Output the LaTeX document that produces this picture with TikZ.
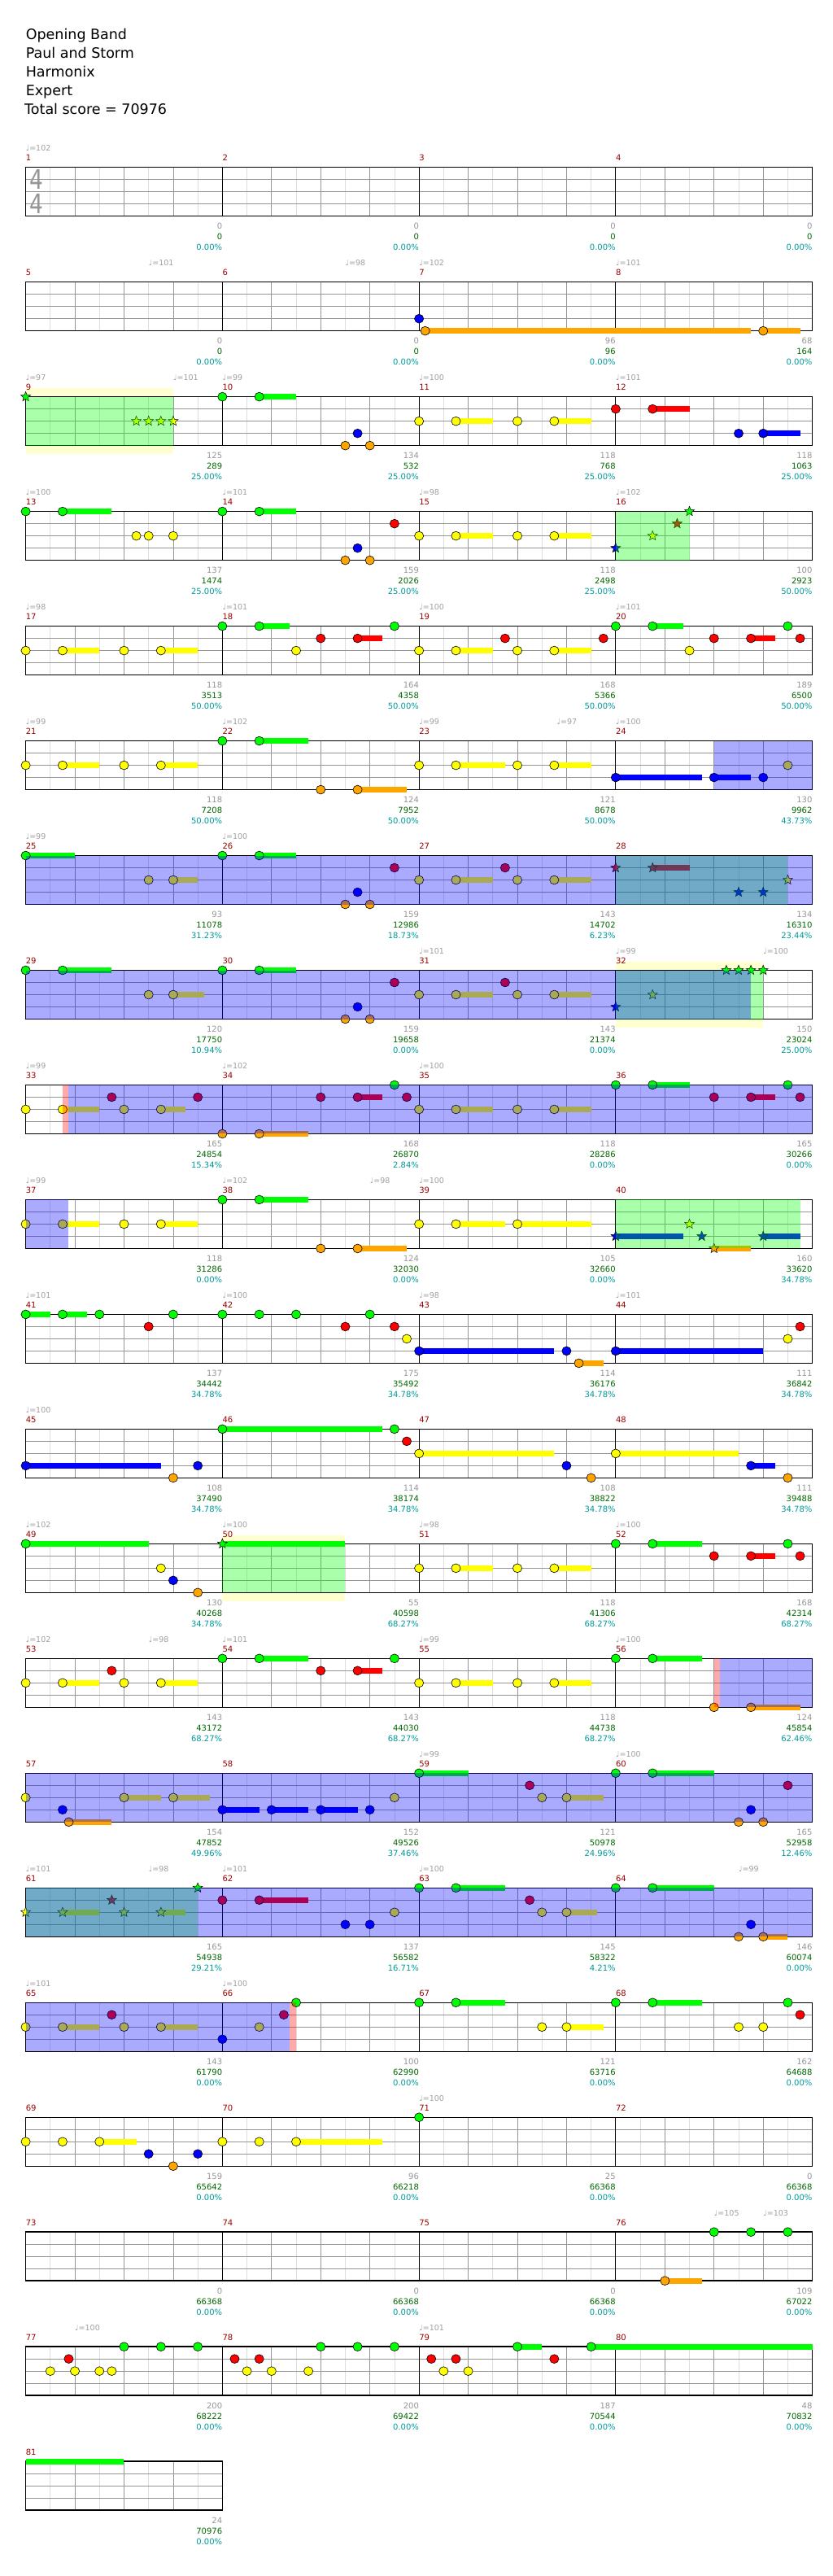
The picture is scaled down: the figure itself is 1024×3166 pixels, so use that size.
\documentclass[tikz,border=0pt]{standalone}
\usepackage{fontspec}
\setmainfont{DejaVu Sans}
\usepackage{tikz}
\usetikzlibrary{shapes.geometric}

\definecolor{lane0}{RGB}{0,255,0}
\definecolor{lane1}{RGB}{255,0,0}
\definecolor{lane2}{RGB}{255,255,0}
\definecolor{lane3}{RGB}{0,0,255}
\definecolor{lane4}{RGB}{255,165,0}
\definecolor{barred}{RGB}{153,0,0}
\definecolor{ptgray}{RGB}{150,150,150}
\definecolor{ptgreen}{RGB}{0,102,0}
\definecolor{pcteal}{RGB}{0,153,153}
\definecolor{tempogray}{RGB}{160,160,160}
\definecolor{gridgray}{RGB}{150,150,150}
\definecolor{gridlight}{RGB}{222,222,222}
\definecolor{bandyellow}{RGB}{255,255,208}

\newcommand\smallnums{\fontsize{10}{12}\selectfont}
\newcommand\tempofont{\fontsize{9.5}{11}\selectfont}
\newcommand\titlefont{\fontsize{17.5}{20}\selectfont}

\tikzset{
 chartrow/.style={shift={(31.6,{205.7+(#1-1)*140.97})}, x=30.22pt, y=-15pt},
 halfline/.style={draw=gridlight, line width=0.8pt},
 beatline/.style={draw=gridgray, line width=0.8pt},
 laneline/.style={draw=gridgray, line width=0.9pt},
 barline/.style={draw=black, line width=0.8pt},
 staffframe/.style={draw=black, line width=1.4pt},
 gemline/.style={draw=black, line width=0.6pt},
 susbar/.style={line width=7pt},
 stargem/.style={
 star,
 star points=5,
 star point ratio=2.3,
 minimum size=12.5pt,
 inner sep=0pt,
 draw=black,
 line width=0.5pt
 },
 barnum/.style={anchor=base west, inner sep=0pt, yshift=8pt, text=barred, font=\smallnums},
 tempomark/.style={anchor=base west, inner sep=0pt, yshift=20pt, text=tempogray, font=\tempofont},
 ptgain/.style={anchor=base east, inner sep=0pt, yshift=-16pt, text=ptgray, font=\smallnums},
 ptsum/.style={anchor=base east, inner sep=0pt, yshift=-29pt, text=ptgreen, font=\smallnums},
 ptpct/.style={anchor=base east, inner sep=0pt, yshift=-42pt, text=pcteal, font=\smallnums},
 timesig/.style={inner sep=0pt, text=gridgray, font=\fontsize{33}{33}\selectfont, xscale=0.8},
 titleline/.style={anchor=base west, inner sep=0pt, font=\titlefont}
}

\newcommand\staffgrid[2]{%
 \pgfmathtruncatemacro\gridend{8*#1}%
 \pgfmathtruncatemacro\gridlast{8*#1-1}%
 \fill[white] (0,0) rectangle (\gridend,4);
 \foreach \e in {1,...,\gridlast} {\draw[halfline] (\e,0) -- (\e,4);}
 \foreach \e in {2,4,...,\gridlast} {\draw[beatline] (\e,0) -- (\e,4);}
 \foreach \l in {1,2,3} {\draw[laneline] (0,\l) -- (\gridend,\l);}
 \foreach \k in {1,...,#1} {
 \pgfmathtruncatemacro\mnum{#2+\k-1}
 \draw[barline] ({8*(\k-1)},0) -- ({8*(\k-1)},4);
 \node[barnum] at ({8*(\k-1)},0) {\mnum};
 }
 \draw[staffframe] (0,0) rectangle (\gridend,4);
}
\newcommand\gem[2]{\filldraw[gemline, fill=lane#2] (#1,#2) ellipse [x radius=5.6pt, y radius=5.4pt];}
\newcommand\gemsus[3]{\draw[susbar, lane#2] (#1,#2) -- (#3,#2); \gem{#1}{#2}}
\newcommand\stargem[2]{\node[stargem, fill=lane#2] at (#1,#2) {};}
\newcommand\starsus[3]{\draw[susbar, lane#2] (#1,#2) -- (#3,#2); \stargem{#1}{#2}}
\newcommand\bpm[2]{\node[tempomark] at (#1,0) {♩=#2};}
\newcommand\spband[2]{\fill[bandyellow] (#1,-0.7) rectangle (#2,4.7);}
\newcommand\spzone[2]{\fill[lane0, opacity=0.333] (#1,0) rectangle (#2,4);}
\newcommand\odzone[2]{\fill[lane3, opacity=0.333] (#1,0) rectangle (#2,4);}
\newcommand\actzone[2]{\fill[lane1, opacity=0.333] (#1,0) rectangle (#2,4);}
\newcommand\scoreline[1]{%
 \foreach \c/\a/\b/\p in {#1} {
 \node[ptgain] at ({8*\c},4) {\a};
 \node[ptsum] at ({8*\c},4) {\b};
 \node[ptpct] at ({8*\c},4) {\p\%};
 }
}

\begin{document}
\begin{tikzpicture}[x=1pt, y=-1pt]
 \useasboundingbox[fill=white] (0,0) rectangle (1024,3166);

 \node[titleline] (song) at (31.6,48.5) {Opening Band};
 \node[titleline] (artist) at (31.6,71.7) {Paul and Storm};
 \node[titleline] (author) at (31.6,95) {Harmonix};
 \node[titleline] (level) at (31.6,118) {Expert};
 \node[titleline] (total) at (30,141) {Total score = 70976};

 \begin{scope}[chartrow=1]
 \staffgrid{4}{1}
 \node[timesig] (sigtop) at (0.43,1) {4};
 \node[timesig] (sigbot) at (0.43,3) {4};
 \bpm{0}{102}
 \scoreline{1/0/0/0.00, 2/0/0/0.00, 3/0/0/0.00, 4/0/0/0.00}
 \end{scope}

 \begin{scope}[chartrow=2]
 \staffgrid{4}{5}
 \bpm{5}{101}\bpm{13}{98}\bpm{16}{102}\bpm{24}{101}
 \gem{16}{3}
 \gemsus{16.25}{4}{29.5}\gemsus{30}{4}{31.5}
 \scoreline{1/0/0/0.00, 2/0/0/0.00, 3/96/96/0.00, 4/68/164/0.00}
 \end{scope}

 \begin{scope}[chartrow=3]
 \spband{0}{6}
 \staffgrid{4}{9}
 \bpm{0}{97}\bpm{6}{101}\bpm{8}{99}\bpm{16}{100}\bpm{24}{101}
 \stargem{0}{0}
 \stargem{4.5}{2}\stargem{5}{2}\stargem{5.5}{2}\stargem{6}{2}
 \gem{8}{0}\gemsus{9.5}{0}{11}
 \gem{13}{4}\gem{13.5}{3}\gem{14}{4}
 \gem{16}{2}\gemsus{17.5}{2}{19}\gem{20}{2}\gemsus{21.5}{2}{23}
 \gem{24}{1}\gemsus{25.5}{1}{27}
 \gem{29}{3}\gemsus{30}{3}{31.5}
 \spzone{0}{6}
 \scoreline{1/125/289/25.00, 2/134/532/25.00, 3/118/768/25.00, 4/118/1063/25.00}
 \end{scope}

 \begin{scope}[chartrow=4]
 \staffgrid{4}{13}
 \bpm{0}{100}\bpm{8}{101}\bpm{16}{98}\bpm{24}{102}
 \gem{0}{0}\gemsus{1.5}{0}{3.5}
 \gem{4.5}{2}\gem{5}{2}\gem{6}{2}
 \gem{8}{0}\gemsus{9.5}{0}{11}
 \gem{13}{4}\gem{13.5}{3}\gem{14}{4}\gem{15}{1}
 \gem{16}{2}\gemsus{17.5}{2}{19}\gem{20}{2}\gemsus{21.5}{2}{23}
 \stargem{24}{3}\stargem{25.5}{2}\stargem{26.5}{1}\stargem{27}{0}
 \spzone{24}{27}
 \scoreline{1/137/1474/25.00, 2/159/2026/25.00, 3/118/2498/25.00, 4/100/2923/50.00}
 \end{scope}

 \begin{scope}[chartrow=5]
 \staffgrid{4}{17}
 \bpm{0}{98}\bpm{8}{101}\bpm{16}{100}\bpm{24}{101}
 \gem{0}{2}\gemsus{1.5}{2}{3}\gem{4}{2}\gemsus{5.5}{2}{7}
 \gem{8}{0}\gemsus{9.5}{0}{10.75}\gem{11}{2}\gem{12}{1}\gemsus{13.5}{1}{14.5}\gem{15}{0}
 \gem{16}{2}\gemsus{17.5}{2}{19}\gem{19.5}{1}\gem{20}{2}\gemsus{21.5}{2}{23}\gem{23.5}{1}
 \gem{24}{0}\gemsus{25.5}{0}{26.75}\gem{27}{2}\gem{28}{1}\gemsus{29.5}{1}{30.5}\gem{31}{0}\gem{31.5}{1}
 \scoreline{1/118/3513/50.00, 2/164/4358/50.00, 3/168/5366/50.00, 4/189/6500/50.00}
 \end{scope}

 \begin{scope}[chartrow=6]
 \staffgrid{4}{21}
 \bpm{0}{99}\bpm{8}{102}\bpm{16}{99}\bpm{21.6}{97}\bpm{24}{100}
 \gem{0}{2}\gemsus{1.5}{2}{3}\gem{4}{2}\gemsus{5.5}{2}{7}
 \gem{8}{0}\gemsus{9.5}{0}{11.5}\gem{12}{4}\gemsus{13.5}{4}{15.5}
 \gem{16}{2}\gemsus{17.5}{2}{19.5}\gem{20}{2}\gemsus{21.5}{2}{23}
 \gemsus{24}{3}{27.5}\gemsus{28}{3}{29.5}\gem{30}{3}\gem{31}{2}
 \odzone{28}{32}
 \scoreline{1/118/7208/50.00, 2/124/7952/50.00, 3/121/8678/50.00, 4/130/9962/43.73}
 \end{scope}

 \begin{scope}[chartrow=7]
 \staffgrid{4}{25}
 \bpm{0}{99}\bpm{8}{100}
 \gemsus{0}{0}{2}\gem{5}{2}\gemsus{6}{2}{7}
 \gem{8}{0}\gemsus{9.5}{0}{11}\gem{13}{4}\gem{13.5}{3}\gem{14}{4}\gem{15}{1}
 \gem{16}{2}\gemsus{17.5}{2}{19}\gem{19.5}{1}\gem{20}{2}\gemsus{21.5}{2}{23}
 \stargem{24}{1}\starsus{25.5}{1}{27}\stargem{29}{3}\stargem{30}{3}\stargem{31}{2}
 \spzone{24}{31}\odzone{0}{32}
 \scoreline{1/93/11078/31.23, 2/159/12986/18.73, 3/143/14702/6.23, 4/134/16310/23.44}
 \end{scope}

 \begin{scope}[chartrow=8]
 \spband{24}{30}
 \staffgrid{4}{29}
 \bpm{16}{101}\bpm{24}{99}\bpm{30}{100}
 \gem{0}{0}\gemsus{1.5}{0}{3.5}\gem{5}{2}\gemsus{6}{2}{7.25}
 \gem{8}{0}\gemsus{9.5}{0}{11}\gem{13}{4}\gem{13.5}{3}\gem{14}{4}\gem{15}{1}
 \gem{16}{2}\gemsus{17.5}{2}{19}\gem{19.5}{1}\gem{20}{2}\gemsus{21.5}{2}{23}
 \stargem{24}{3}\stargem{25.5}{2}\stargem{28.5}{0}\stargem{29}{0}\stargem{29.5}{0}\stargem{30}{0}
 \spzone{24}{30}\odzone{0}{29.5}
 \scoreline{1/120/17750/10.94, 2/159/19658/0.00, 3/143/21374/0.00, 4/150/23024/25.00}
 \end{scope}

 \begin{scope}[chartrow=9]
 \staffgrid{4}{33}
 \bpm{0}{99}\bpm{8}{102}\bpm{16}{100}
 \gem{0}{2}\gemsus{1.5}{2}{3}\gem{3.5}{1}\gem{4}{2}\gemsus{5.5}{2}{6.5}\gem{7}{1}
 \gem{8}{4}\gemsus{9.5}{4}{11.5}\gem{12}{1}\gemsus{13.5}{1}{14.5}\gem{15}{0}\gem{15.5}{1}
 \gem{16}{2}\gemsus{17.5}{2}{19}\gem{20}{2}\gemsus{21.5}{2}{23}
 \gem{24}{0}\gemsus{25.5}{0}{27}\gem{28}{1}\gemsus{29.5}{1}{30.5}\gem{31}{0}\gem{31.5}{1}
 \actzone{1.5}{1.75}\odzone{1.75}{32}
 \scoreline{1/165/24854/15.34, 2/168/26870/2.84, 3/118/28286/0.00, 4/165/30266/0.00}
 \end{scope}

 \begin{scope}[chartrow=10]
 \staffgrid{4}{37}
 \bpm{0}{99}\bpm{8}{102}\bpm{14}{98}\bpm{16}{100}
 \gem{0}{2}\gemsus{1.5}{2}{3}\gem{4}{2}\gemsus{5.5}{2}{7}
 \gem{8}{0}\gemsus{9.5}{0}{11.5}\gem{12}{4}\gemsus{13.5}{4}{15.5}
 \gem{16}{2}\gemsus{17.5}{2}{19.5}\gemsus{20}{2}{23}
 \starsus{24}{3}{26.75}\stargem{27}{2}\stargem{27.5}{3}\starsus{28}{4}{29.5}\starsus{30}{3}{31.5}
 \odzone{0}{1.75}\spzone{24}{31.5}
 \scoreline{1/118/31286/0.00, 2/124/32030/0.00, 3/105/32660/0.00, 4/160/33620/34.78}
 \end{scope}

 \begin{scope}[chartrow=11]
 \staffgrid{4}{41}
 \bpm{0}{101}\bpm{8}{100}\bpm{16}{98}\bpm{24}{101}
 \gemsus{0}{0}{1}\gemsus{1.5}{0}{2.5}\gem{3}{0}\gem{5}{1}\gem{6}{0}
 \gem{8}{0}\gem{9.5}{0}\gem{11}{0}\gem{13}{1}\gem{14}{0}\gem{15}{1}\gem{15.5}{2}
 \gemsus{16}{3}{21.5}\gem{22}{3}\gemsus{22.5}{4}{23.5}
 \gemsus{24}{3}{30}\gem{31}{2}\gem{31.5}{1}
 \scoreline{1/137/34442/34.78, 2/175/35492/34.78, 3/114/36176/34.78, 4/111/36842/34.78}
 \end{scope}

 \begin{scope}[chartrow=12]
 \staffgrid{4}{45}
 \bpm{0}{100}
 \gemsus{0}{3}{5.5}\gem{6}{4}\gem{7}{3}
 \gemsus{8}{0}{14.5}\gem{15}{0}\gem{15.5}{1}
 \gemsus{16}{2}{21.5}\gem{22}{3}\gem{23}{4}
 \gemsus{24}{2}{29}\gemsus{29.5}{3}{30.5}\gem{31}{4}
 \scoreline{1/108/37490/34.78, 2/114/38174/34.78, 3/108/38822/34.78, 4/111/39488/34.78}
 \end{scope}

 \begin{scope}[chartrow=13]
 \spband{8}{13}
 \staffgrid{4}{49}
 \bpm{0}{102}\bpm{8}{100}\bpm{16}{98}\bpm{24}{100}
 \gemsus{0}{0}{5}\gem{5.5}{2}\gem{6}{3}\gem{7}{4}
 \starsus{8}{0}{13}
 \gem{16}{2}\gemsus{17.5}{2}{19}\gem{20}{2}\gemsus{21.5}{2}{23}
 \gem{24}{0}\gemsus{25.5}{0}{27.5}\gem{28}{1}\gemsus{29.5}{1}{30.5}\gem{31}{0}\gem{31.5}{1}
 \spzone{8}{13}
 \scoreline{1/130/40268/34.78, 2/55/40598/68.27, 3/118/41306/68.27, 4/168/42314/68.27}
 \end{scope}

 \begin{scope}[chartrow=14]
 \staffgrid{4}{53}
 \bpm{0}{102}\bpm{5}{98}\bpm{8}{101}\bpm{16}{99}\bpm{24}{100}
 \gem{0}{2}\gemsus{1.5}{2}{3}\gem{3.5}{1}\gem{4}{2}\gemsus{5.5}{2}{7}
 \gem{8}{0}\gemsus{9.5}{0}{11.5}\gem{12}{1}\gemsus{13.5}{1}{14.5}\gem{15}{0}
 \gem{16}{2}\gemsus{17.5}{2}{19}\gem{20}{2}\gemsus{21.5}{2}{23}
 \gem{24}{0}\gemsus{25.5}{0}{27.5}\gem{28}{4}\gemsus{29.5}{4}{31.5}
 \actzone{28}{28.25}\odzone{28.25}{32}
 \scoreline{1/143/43172/68.27, 2/143/44030/68.27, 3/118/44738/68.27, 4/124/45854/62.46}
 \end{scope}

 \begin{scope}[chartrow=15]
 \staffgrid{4}{57}
 \bpm{16}{99}\bpm{24}{100}
 \gem{0}{2}\gem{1.5}{3}\gemsus{1.75}{4}{3.5}\gemsus{4}{2}{5.5}\gemsus{6}{2}{7.5}
 \gemsus{8}{3}{9.5}\gemsus{10}{3}{11.5}\gemsus{12}{3}{13.5}\gem{14}{3}\gem{15}{2}
 \gemsus{16}{0}{18}\gem{20.5}{1}\gem{21}{2}\gemsus{22}{2}{23.5}
 \gem{24}{0}\gemsus{25.5}{0}{28}\gem{29}{4}\gem{29.5}{3}\gem{30}{4}\gem{31}{1}
 \odzone{0}{32}
 \scoreline{1/154/47852/49.96, 2/152/49526/37.46, 3/121/50978/24.96, 4/165/52958/12.46}
 \end{scope}

 \begin{scope}[chartrow=16]
 \staffgrid{4}{61}
 \bpm{0}{101}\bpm{5}{98}\bpm{8}{101}\bpm{16}{100}\bpm{29}{99}
 \stargem{0}{2}\starsus{1.5}{2}{3}\stargem{3.5}{1}\stargem{4}{2}\starsus{5.5}{2}{6.5}\stargem{7}{0}
 \gem{8}{1}\gemsus{9.5}{1}{11.5}\gem{13}{3}\gem{14}{3}\gem{15}{2}
 \gem{16}{0}\gemsus{17.5}{0}{19.5}\gem{20.5}{1}\gem{21}{2}\gemsus{22}{2}{23.25}
 \gem{24}{0}\gemsus{25.5}{0}{28}\gem{29}{4}\gem{29.5}{3}\gemsus{30}{4}{31}
 \spzone{0}{7}\odzone{0}{32}
 \scoreline{1/165/54938/29.21, 2/137/56582/16.71, 3/145/58322/4.21, 4/146/60074/0.00}
 \end{scope}

 \begin{scope}[chartrow=17]
 \staffgrid{4}{65}
 \bpm{0}{101}\bpm{8}{100}
 \gem{0}{2}\gemsus{1.5}{2}{3}\gem{3.5}{1}\gem{4}{2}\gemsus{5.5}{2}{7}
 \gem{8}{3}\gem{9.5}{2}\gem{10.5}{1}\gem{11}{0}
 \gem{16}{0}\gemsus{17.5}{0}{19.5}\gem{21}{2}\gemsus{22}{2}{23.5}
 \gem{24}{0}\gemsus{25.5}{0}{27.5}\gem{29}{2}\gem{30}{2}\gem{31}{0}\gem{31.5}{1}
 \odzone{0}{10.75}\actzone{10.75}{11}
 \scoreline{1/143/61790/0.00, 2/100/62990/0.00, 3/121/63716/0.00, 4/162/64688/0.00}
 \end{scope}

 \begin{scope}[chartrow=18]
 \staffgrid{4}{69}
 \bpm{16}{100}
 \gem{0}{2}\gem{1.5}{2}\gemsus{3}{2}{4.5}\gem{5}{3}\gem{6}{4}\gem{7}{3}
 \gem{8}{2}\gem{9.5}{2}\gemsus{11}{2}{14.5}
 \gem{16}{0}
 \scoreline{1/159/65642/0.00, 2/96/66218/0.00, 3/25/66368/0.00, 4/0/66368/0.00}
 \end{scope}

 \begin{scope}[chartrow=19]
 \staffgrid{4}{73}
 \bpm{28}{105}\bpm{30}{103}
 \gemsus{26}{4}{27.5}\gem{28}{0}\gem{29.5}{0}\gem{31}{0}
 \scoreline{1/0/66368/0.00, 2/0/66368/0.00, 3/0/66368/0.00, 4/109/67022/0.00}
 \end{scope}

 \begin{scope}[chartrow=20]
 \staffgrid{4}{77}
 \bpm{2}{100}\bpm{16}{101}
 \gem{1}{2}\gem{1.75}{1}\gem{2}{2}\gem{3}{2}\gem{3.5}{2}\gem{4}{0}\gem{5.5}{0}\gem{7}{0}
 \gem{8.5}{1}\gem{9}{2}\gem{9.5}{1}\gem{10}{2}\gem{11.5}{2}\gem{12}{0}\gem{13.5}{0}\gem{15}{0}
 \gem{16.5}{1}\gem{17}{2}\gem{17.5}{1}\gem{18}{2}\gemsus{20}{0}{21}\gem{21.5}{1}\gemsus{23}{0}{32}
 \scoreline{1/200/68222/0.00, 2/200/69422/0.00, 3/187/70544/0.00, 4/48/70832/0.00}
 \end{scope}

 \begin{scope}[chartrow=21]
 \staffgrid{1}{81}
 \draw[susbar, lane0] (0,0) -- (3.97,0);
 \scoreline{1/24/70976/0.00}
 \end{scope}
\end{tikzpicture}
\end{document}
